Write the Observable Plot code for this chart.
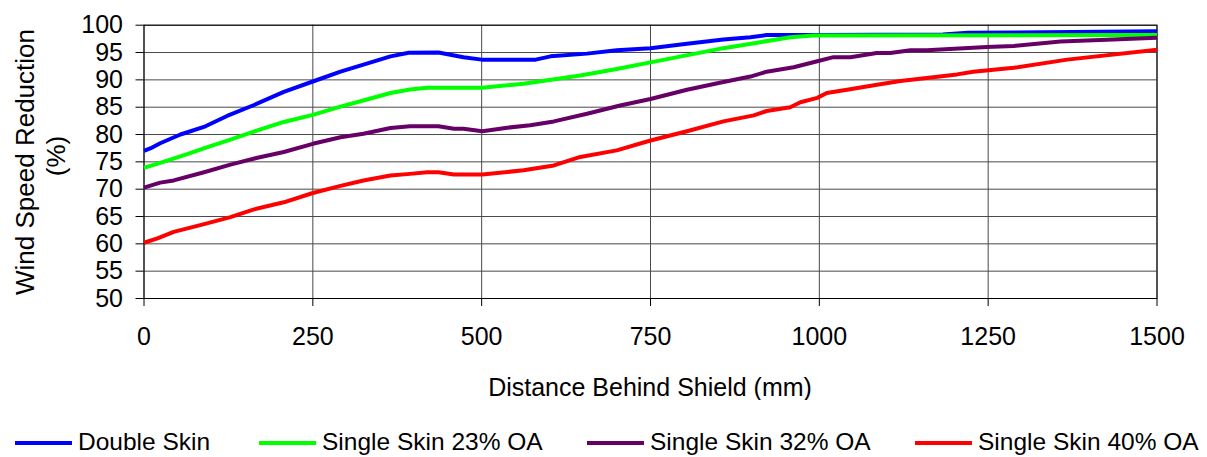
<!DOCTYPE html>
<html>
<head>
<meta charset="utf-8">
<script src="https://cdn.jsdelivr.net/npm/d3@7"></script>
<script src="https://cdn.jsdelivr.net/npm/@observablehq/plot@0.6"></script>
<style>
  html, body { margin: 0; padding: 0; background: #fff; }
  body { width: 1207px; height: 457px; overflow: hidden; font-family: "Liberation Sans", Arial, sans-serif; }
  #legend { position: relative; height: 57px; font-size: 24.5px; color: #000; }
  .item { position: absolute; top: 28px; display: flex; align-items: center; line-height: 28px; white-space: nowrap; }
  .swatch { width: 57px; height: 4px; margin-right: 6px; position: relative; top: 1px; }
</style>
</head>
<body>
<div id="chart"></div>
<div id="legend"></div>
<script>
const seriesNames = ["Double Skin", "Single Skin 23% OA", "Single Skin 32% OA", "Single Skin 40% OA"];
const seriesColors = ["#0000FF", "#00FF00", "#660066", "#FF0000"];

const xTicks = [0, 250, 500, 750, 1000, 1250, 1500];
const yTicks = [50, 55, 60, 65, 70, 75, 80, 85, 90, 95, 100];

const doubleSkinX = [0, 10, 24, 54, 91, 123, 163, 207, 250, 291, 325, 365, 392, 436, 473, 500, 580, 602, 656, 700, 750, 804, 858, 898, 922, 991, 1183, 1220, 1500];
const doubleSkinY = [77.0, 77.5, 78.4, 80.0, 81.5, 83.4, 85.4, 87.8, 89.7, 91.5, 92.8, 94.3, 94.95, 95.0, 94.15, 93.7, 93.7, 94.3, 94.8, 95.4, 95.8, 96.6, 97.4, 97.8, 98.2, 98.2, 98.3, 98.6, 98.9];

const skin23X = [0, 24, 64, 94, 128, 168, 207, 250, 291, 330, 365, 394, 419, 501, 562, 646, 700, 750, 858, 908, 957, 991, 1500];
const skin23Y = [73.9, 74.8, 76.4, 77.7, 79.05, 80.75, 82.3, 83.6, 85.1, 86.4, 87.6, 88.25, 88.55, 88.55, 89.3, 90.8, 92.0, 93.2, 95.8, 96.8, 97.8, 98.1, 98.2];

const skin32X = [0, 24, 44, 89, 128, 168, 207, 250, 291, 325, 365, 394, 436, 459, 473, 501, 538, 572, 607, 656, 705, 750, 804, 858, 898, 922, 962, 997, 1021, 1046, 1085, 1105, 1135, 1159, 1248, 1288, 1357, 1416, 1500];
const skin32Y = [70.3, 71.2, 71.6, 73.1, 74.5, 75.75, 76.8, 78.3, 79.5, 80.15, 81.2, 81.5, 81.5, 81.05, 81.05, 80.6, 81.25, 81.7, 82.4, 83.8, 85.3, 86.5, 88.2, 89.6, 90.6, 91.5, 92.3, 93.4, 94.15, 94.15, 94.9, 94.9, 95.4, 95.4, 96.0, 96.2, 97.0, 97.3, 97.7];

const skin40X = [0, 20, 44, 89, 128, 163, 207, 250, 291, 325, 365, 394, 419, 436, 459, 501, 562, 607, 646, 700, 750, 804, 858, 903, 922, 957, 972, 997, 1011, 1041, 1090, 1120, 1204, 1228, 1288, 1367, 1500];
const skin40Y = [60.2, 61.0, 62.2, 63.6, 64.9, 66.3, 67.6, 69.3, 70.6, 71.6, 72.5, 72.8, 73.1, 73.1, 72.7, 72.7, 73.45, 74.35, 75.9, 77.1, 78.9, 80.6, 82.4, 83.5, 84.3, 85.0, 85.9, 86.7, 87.6, 88.2, 89.2, 89.8, 91.0, 91.5, 92.2, 93.7, 95.5];

const seriesXs = [doubleSkinX, skin23X, skin32X, skin40X];
const seriesYs = [doubleSkinY, skin23Y, skin32Y, skin40Y];

const data = seriesNames.flatMap((name, i) =>
  seriesXs[i].map((x, j) => ({series: name, distance: x, value: seriesYs[i][j]}))
);

const gridColor = "#4a4a4a";

const plot = Plot.plot({
  width: 1207,
  height: 400,
  marginLeft: 143.5,
  marginRight: 50.5,
  marginTop: 24.7,
  marginBottom: 102,
  style: {fontFamily: "'Liberation Sans', Arial, sans-serif", fontSize: "25px", color: "#000", background: "#fff"},
  x: {domain: [0, 1500], ticks: xTicks, label: null},
  y: {domain: [50, 100], ticks: yTicks, label: null},
  color: {domain: seriesNames, range: seriesColors},
  marks: [
    Plot.ruleY(yTicks, {stroke: gridColor, strokeWidth: 1}),
    Plot.ruleX(xTicks, {stroke: gridColor, strokeWidth: 1}),
    Plot.frame({stroke: "#000", strokeWidth: 1}),
    Plot.axisX({ticks: xTicks, tickSize: 8, tickPadding: 21, tickFormat: d => String(d), label: null, fontSize: 25, stroke: "#000"}),
    Plot.axisY({ticks: yTicks, tickSize: 8, tickPadding: 13, tickFormat: d => String(d), label: null, fontSize: 25, stroke: "#000"}),
    Plot.line(data, {x: "distance", y: "value", z: "series", stroke: "series", strokeWidth: 4, strokeLinejoin: "round", strokeLinecap: "butt"})
  ]
});

const svg = d3.select(plot);
svg.append("text")
  .attr("transform", "translate(34,162) rotate(-90)")
  .attr("text-anchor", "middle")
  .attr("font-size", 26)
  .attr("fill", "#000")
  .text("Wind Speed Reduction");
svg.append("text")
  .attr("transform", "translate(65,156) rotate(-90)")
  .attr("text-anchor", "middle")
  .attr("font-size", 26)
  .attr("fill", "#000")
  .text("(%)");
svg.append("text")
  .attr("x", 650)
  .attr("y", 396)
  .attr("text-anchor", "middle")
  .attr("font-size", 25)
  .attr("fill", "#000")
  .text("Distance Behind Shield (mm)");

document.getElementById("chart").appendChild(plot);

const legendLefts = [15, 259, 587, 915];
const legend = d3.select("#legend");
seriesNames.forEach((name, i) => {
  const item = legend.append("div").attr("class", "item").style("left", legendLefts[i] + "px");
  item.append("div").attr("class", "swatch").style("background", seriesColors[i]);
  item.append("span").text(name);
});
</script>
</body>
</html>
